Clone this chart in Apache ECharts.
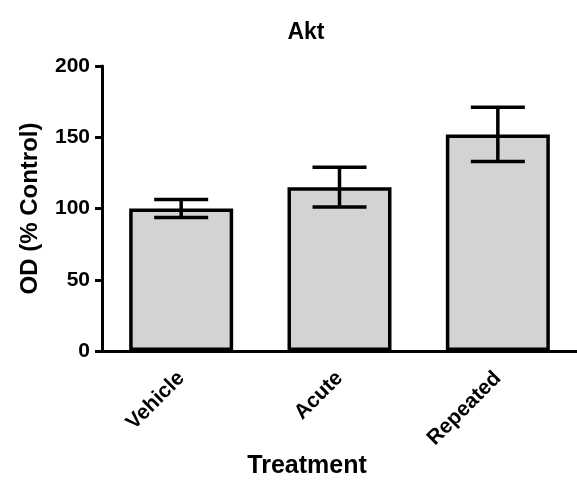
<!DOCTYPE html>
<html>
<head>
<meta charset="utf-8">
<script src="https://cdn.jsdelivr.net/npm/echarts@6/dist/echarts.min.js"></script>
<style>
  html, body { margin: 0; padding: 0; background: #fff; }
  #chart { width: 577px; height: 481px; }
</style>
</head>
<body>
<div id="chart"></div>
<script>
// Akt optical density by treatment group (mean ± SEM, % of control)
const categories = ['Vehicle', 'Acute', 'Repeated'];
const means = [100, 115, 152];
const errors = [6.3, 14, 19];
const yTicks = [0, 50, 100, 150, 200];

const FONT = '"Liberation Sans", Arial, Helvetica, sans-serif';

const chart = echarts.init(document.getElementById('chart'));

const errorData = categories.map((c, i) => [i, means[i] - errors[i], means[i] + errors[i]]);

chart.setOption({
  animation: false,
  backgroundColor: '#ffffff',
  title: [
    {
      text: 'Akt',
      left: 301, top: 16,
      textAlign: 'center',
      textStyle: { fontFamily: FONT, fontWeight: 'bold', fontSize: 23, color: '#000' }
    },
    {
      text: 'Treatment',
      left: 302, top: 449,
      textAlign: 'center',
      textStyle: { fontFamily: FONT, fontWeight: 'bold', fontSize: 25, color: '#000' }
    }
  ],
  grid: { left: 102, right: 0, top: 66, bottom: 130, containLabel: false },
  xAxis: {
    type: 'category',
    data: categories,
    axisLine: { lineStyle: { color: '#000', width: 3 } },
    axisTick: { alignWithLabel: true, length: 7, lineStyle: { color: '#000', width: 3 } },
    axisLabel: {
      rotate: 45, margin: 24, color: '#000',
      fontFamily: FONT, fontWeight: 'bold', fontSize: 21
    },
    splitLine: { show: false }
  },
  yAxis: {
    type: 'value',
    min: yTicks[0], max: yTicks[yTicks.length - 1], interval: 50,
    name: 'OD (% Control)',
    nameLocation: 'middle',
    nameGap: 60,
    nameTextStyle: { fontFamily: FONT, fontWeight: 'bold', fontSize: 24, color: '#000' },
    axisLine: { show: true, lineStyle: { color: '#000', width: 3 } },
    axisTick: { show: true, length: 7, lineStyle: { color: '#000', width: 3 } },
    axisLabel: { margin: 12, color: '#000', fontFamily: FONT, fontWeight: 'bold', fontSize: 21 },
    splitLine: { show: false }
  },
  series: [
    {
      type: 'bar',
      data: means,
      barWidth: 104,
      itemStyle: { color: '#d3d3d3', borderColor: '#000', borderWidth: 3.5 },
      z: 2
    },
    {
      type: 'custom',
      data: errorData,
      z: 3,
      renderItem: function (params, api) {
        const x = api.value(0);
        const lo = api.coord([x, api.value(1)]);
        const hi = api.coord([x, api.value(2)]);
        const half = 27;
        const style = { stroke: '#000', lineWidth: 3.5 };
        return {
          type: 'group',
          children: [
            { type: 'line', shape: { x1: hi[0], y1: hi[1], x2: lo[0], y2: lo[1] }, style },
            { type: 'line', shape: { x1: hi[0] - half, y1: hi[1], x2: hi[0] + half, y2: hi[1] }, style },
            { type: 'line', shape: { x1: lo[0] - half, y1: lo[1], x2: lo[0] + half, y2: lo[1] }, style }
          ]
        };
      }
    }
  ]
});
</script>
</body>
</html>
